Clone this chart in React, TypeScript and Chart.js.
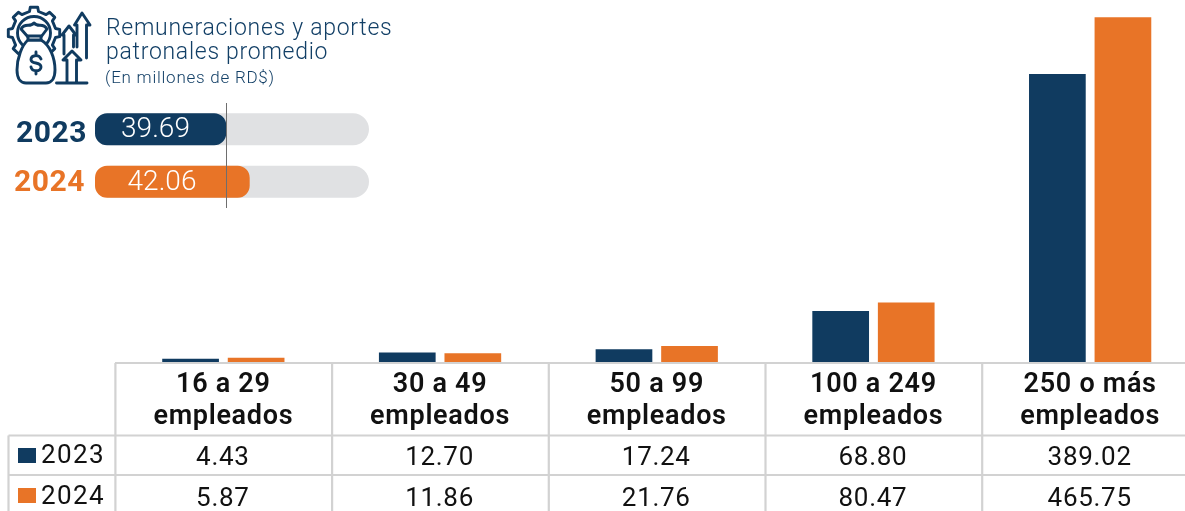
import React, { useEffect, useRef } from "react";
import { Chart, registerables } from "chart.js";
Chart.register(...registerables);

const categories = [["16 a 29", "empleados"], ["30 a 49", "empleados"], ["50 a 99", "empleados"], ["100 a 249", "empleados"], ["250 o más", "empleados"]];
const years = ["2023", "2024"];
const values2023 = [4.43, 12.7, 17.24, 68.8, 389.02];
const values2024 = [5.87, 11.86, 21.76, 80.47, 465.75];
const labels2023 = ["4.43", "12.70", "17.24", "68.80", "389.02"];
const labels2024 = ["5.87", "11.86", "21.76", "80.47", "465.75"];
const averages = [39.69, 42.06];
const averageLabels = ["39.69", "42.06"];
const trackStart = 26.45;
const trackEnd = 54.1;

const NAVY = "#103b60";
const ORANGE = "#e87427";
const GRID = "#d2d2d2";
const TEXT = "#111111";

const tablePlugin = {
  id: "dataTable",
  beforeDraw(chart: any) {
    chart.ctx.letterSpacing = "0.7px";
  },
  afterDraw(chart: any) {
    const { ctx, scales } = chart;
    const x = scales.x;
    const step = (x.right - x.left) / categories.length;
    const yTop = 363, yHead = 435.5, yRow = 475, yEnd = 511, xKey = 8.5;
    ctx.save();
    ctx.strokeStyle = GRID;
    ctx.lineWidth = 2.2;
    ctx.beginPath();
    ctx.moveTo(x.left, yTop); ctx.lineTo(x.right + 2, yTop);
    ctx.moveTo(xKey, yHead); ctx.lineTo(x.right + 2, yHead);
    ctx.moveTo(xKey, yRow); ctx.lineTo(x.right + 2, yRow);
    ctx.moveTo(xKey, yHead); ctx.lineTo(xKey, yEnd);
    for (let i = 0; i < categories.length; i++) {
      const px = x.left + i * step + 0.4;
      ctx.moveTo(px, yTop); ctx.lineTo(px, yEnd);
    }
    ctx.stroke();
    ctx.fillStyle = TEXT;
    ctx.font = "400 26px Roboto";
    ctx.letterSpacing = "0.7px";
    ctx.textAlign = "center";
    ctx.textBaseline = "alphabetic";
    categories.forEach((_, i) => {
      const px = x.getPixelForTick(i) - 0.5;
      ctx.fillText(labels2023[i], px, 465);
      ctx.fillText(labels2024[i], px, 506);
    });
    ctx.textAlign = "left";
    ctx.font = "400 26px Roboto";
    ctx.letterSpacing = "1.4px";
    [NAVY, ORANGE].forEach((c, i) => {
      const base = i === 0 ? 463 : 504;
      ctx.fillStyle = c;
      ctx.fillRect(18, i === 0 ? 448 : 488, 18, 15);
      ctx.fillStyle = TEXT;
      ctx.fillText(years[i], 41, base);
    });
    ctx.restore();
  },
};

const summaryPlugin = {
  id: "summaryMarks",
  afterDraw(chart: any) {
    const { ctx, scales, chartArea } = chart;
    const x = scales.x, y = scales.y;
    ctx.save();
    ctx.fillStyle = "#ffffff";
    ctx.font = "300 28px Roboto";
    ctx.textAlign = "center";
    ctx.textBaseline = "middle";
    averageLabels.forEach((t, i) => {
      ctx.fillText(t, x.left + (i === 0 ? 60.5 : 67), y.getPixelForTick(i) + 1);
    });
    const rx = Math.round(x.getPixelForValue(averages[0])) + 0.5;
    ctx.strokeStyle = "#6e6e6e";
    ctx.lineWidth = 1;
    ctx.beginPath();
    ctx.moveTo(rx, chartArea.top);
    ctx.lineTo(rx, chartArea.bottom);
    ctx.stroke();
    ctx.restore();
  },
};

function gearPath(cx: number, cy: number, r: number, R: number, teeth: number) {
  let d = "";
  const w = (2 * Math.PI) / teeth;
  for (let i = 0; i < teeth; i++) {
    const a = i * w - Math.PI / 2;
    const pts: [number, number][] = [
      [r, a - w * 0.26], [R, a - w * 0.18], [R, a + w * 0.18], [r, a + w * 0.26],
    ];
    pts.forEach(([q, t], j) => {
      const px = (cx + q * Math.cos(t)).toFixed(1);
      const py = (cy + q * Math.sin(t)).toFixed(1);
      d += (i === 0 && j === 0 ? "M" : "L") + px + " " + py + " ";
    });
  }
  return d + "Z";
}

function Icon() {
  const s = { fill: "none", stroke: NAVY, strokeWidth: 2.9, strokeLinejoin: "round" as const, strokeLinecap: "round" as const };
  return (
    <svg width="100" height="90" style={{ position: "absolute", left: 0, top: 5 }} viewBox="0 5 100 90">
      <g {...s}>
        <path d={gearPath(34, 33, 22, 26, 8)} />
        <circle cx="34" cy="33" r="16.5" />
        <path d="M28 37 L21 29 C25 22 30 28 34 23 C38 28 43 22 47 29 L41 37 Z" fill="#fff" />
        <path d="M28 40 H41 C50 45 55 58 55 70 C55 79 51 83 46 83 H26 C21 83 17 79 17 70 C17 58 22 45 28 40 Z" fill="#fff" />
        <path d="M28 36 H41 V40 H28 Z" fill="#fff" />
        <path d="M41 59 C39 54 31 55 31 59.5 C31 65 41 61 41 67 C41 72 32 72 31 67 M36 52 V55 M36 71 V74" />
        <path d="M56.5 83 H87 M67 83 V60 H63 L72 51 L81 60 H76.5 V83" />
        <path d="M64 54 V35 H62 L69 26 L76 35 H73.5 V47" />
        <path d="M77 47 V25 H74.5 L82 13 L90 25 H86.5 V58" />
      </g>
    </svg>
  );
}

export default function App() {
  const mainRef = useRef<HTMLCanvasElement>(null);
  const summaryRef = useRef<HTMLCanvasElement>(null);
  useEffect(() => {
    const main = new Chart(mainRef.current!, {
      type: "bar",
      data: {
        labels: categories,
        datasets: [
          { label: years[0], data: values2023, backgroundColor: NAVY, categoryPercentage: 0.605, barPercentage: 0.865 },
          { label: years[1], data: values2024, backgroundColor: ORANGE, categoryPercentage: 0.605, barPercentage: 0.865 },
        ],
      },
      options: {
        animation: false, responsive: false,
        layout: { padding: { left: 115, right: 1.5, top: 0, bottom: 0 } },
        plugins: { legend: { display: false }, tooltip: { enabled: false } },
        scales: {
          x: {
            grid: { display: false }, border: { display: false },
            afterFit(s: any) { s.height = 149; },
            ticks: { color: TEXT, maxRotation: 0, autoSkip: false, padding: -1, font: { family: "Roboto", weight: "600", size: 27, lineHeight: 1.185 } },
          },
          y: { display: false, min: 0, max: 489 },
        },
      },
      plugins: [tablePlugin],
    } as any);
    const summary = new Chart(summaryRef.current!, {
      type: "bar",
      data: {
        labels: years,
        datasets: [
          { label: "Promedio", data: averages.map((v) => [trackStart, v]), backgroundColor: [NAVY, ORANGE], order: 0, grouped: false, borderSkipped: false, borderRadius: 12, barPercentage: 0.61, categoryPercentage: 1 },
          { label: "Base", data: averages.map(() => [trackStart, trackEnd]), backgroundColor: "#e0e1e3", order: 1, grouped: false, borderSkipped: false, borderRadius: 16, barPercentage: 0.61, categoryPercentage: 1 },
        ],
      },
      options: {
        indexAxis: "y", animation: false, responsive: false,
        layout: { padding: { left: 95, right: 31, top: 0, bottom: 0 } },
        plugins: { legend: { display: false }, tooltip: { enabled: false } },
        scales: {
          x: { display: false, min: trackStart, max: trackEnd },
          y: {
            grid: { display: false }, border: { display: false },
            afterFit(s: any) { s.width = 0; },
            ticks: { mirror: true, display: false },
          },
        },
      },
      plugins: [summaryPlugin],
    } as any);
    return () => { main.destroy(); summary.destroy(); };
  }, []);
  const yearStyle = (c: string, top: number, left: number) => ({
    position: "absolute" as const, left, top, color: c, font: "700 30px Roboto", lineHeight: "32px", letterSpacing: "0.5px",
  });
  return (
    <div style={{ position: "fixed", left: 0, top: 0, width: 1185, height: 511, overflow: "hidden", background: "#fff" }}>
      <canvas ref={mainRef} width={1200} height={511} style={{ position: "absolute", left: 0, top: 0 }} />
      <canvas ref={summaryRef} width={400} height={105} style={{ position: "absolute", left: 0, top: 103 }} />
      <Icon />
      <div style={{ position: "absolute", left: 106, top: 15.5, color: "#123f66", font: "300 23px/24px Roboto", letterSpacing: "0.72px", whiteSpace: "nowrap" }}>
        Remuneraciones y aportes<br />patronales promedio
      </div>
      <div style={{ position: "absolute", left: 105, top: 67, color: "#123f66", font: "300 17px/20px Roboto", letterSpacing: "0.75px", whiteSpace: "nowrap" }}>(En millones de RD$)</div>
      <div style={yearStyle(NAVY, 116, 16)}>{years[0]}</div>
      <div style={yearStyle(ORANGE, 165, 14)}>{years[1]}</div>
    </div>
  );
}
